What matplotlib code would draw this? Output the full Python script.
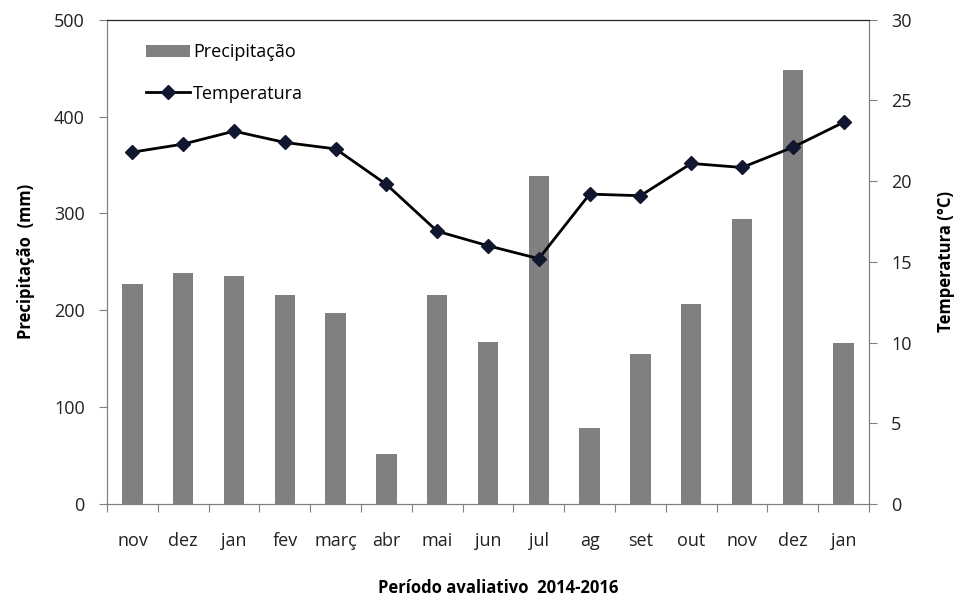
import numpy as np
import matplotlib.pyplot as plt
from matplotlib.lines import Line2D
from matplotlib.patches import Patch

# Dados
meses = ['nov', 'dez', 'jan', 'fev', 'març', 'abr', 'mai', 'jun',
         'jul', 'ag', 'set', 'out', 'nov', 'dez', 'jan']
precipitacao = [227, 239, 235, 216, 197, 52, 216, 167,
                339, 78, 155, 207, 294, 448, 166]
temperatura = [21.8, 22.3, 23.1, 22.4, 22.0, 19.8, 16.9, 16.0,
               15.2, 19.2, 19.1, 21.1, 20.85, 22.1, 23.65]

plt.rcParams['font.family'] = ['Open Sans', 'DejaVu Sans']

fig = plt.figure(figsize=(9.56, 6), dpi=100)
ax = fig.add_axes([0.112, 0.16, 0.797, 0.807])
ax2 = ax.twinx()

x = np.arange(len(meses))
ax.bar(x, precipitacao, width=0.4, color='#808080', zorder=2)
ax2.plot(x, temperatura, color='black', linewidth=2, marker='D',
         markersize=7, markerfacecolor='#10172e', markeredgecolor='#10172e', zorder=3)

ax.set_xlim(-0.5, len(meses) - 0.5)
ax.set_ylim(0, 500)
ax2.set_ylim(0, 30)
ax.set_yticks(range(0, 501, 100))
ax2.set_yticks(range(0, 31, 5))

# ticks do eixo x nas divisas entre categorias
ax.set_xticks(np.arange(-0.5, len(meses), 1.0))
ax.set_xticklabels([])
ax.set_xticks(x, minor=True)
ax.set_xticklabels(meses, minor=True)
ax.tick_params(axis='x', which='major', direction='out', length=6, color='#808080')
ax.tick_params(axis='x', which='minor', length=0, pad=20, labelsize=13, labelcolor='#222222')
ax.tick_params(axis='y', direction='out', length=6, color='#808080', labelsize=13,
               labelcolor='#222222', pad=10)
ax2.tick_params(axis='y', direction='out', length=6, color='#808080', labelsize=13,
                labelcolor='#222222', pad=10)

for a in (ax, ax2):
    a.spines['left'].set_color('#808080')
    a.spines['right'].set_color('#808080')
    a.spines['bottom'].set_color('#808080')
    a.spines['top'].set_color('#222222')

ax.set_ylabel('Precipitação  (mm)', fontsize=12, fontweight='bold', labelpad=14)
ax2.set_ylabel('Temperatura (°C)', fontsize=12, fontweight='bold', labelpad=18)
fig.text(0.521, 1 - 588 / 600, 'Período avaliativo  2014-2016', fontsize=12,
         fontweight='bold', ha='center', va='center')

handles = [Patch(facecolor='#808080'),
           Line2D([0], [0], color='black', linewidth=2, marker='D', markersize=7,
                  markerfacecolor='#10172e', markeredgecolor='#10172e')]
ax.legend(handles, ['Precipitação', 'Temperatura'], loc='upper left',
          bbox_to_anchor=(0.03, 0.985), frameon=False, fontsize=13,
          handlelength=2.4, labelspacing=1.3, handletextpad=0.2)

fig.savefig('out.png', dpi=100)
